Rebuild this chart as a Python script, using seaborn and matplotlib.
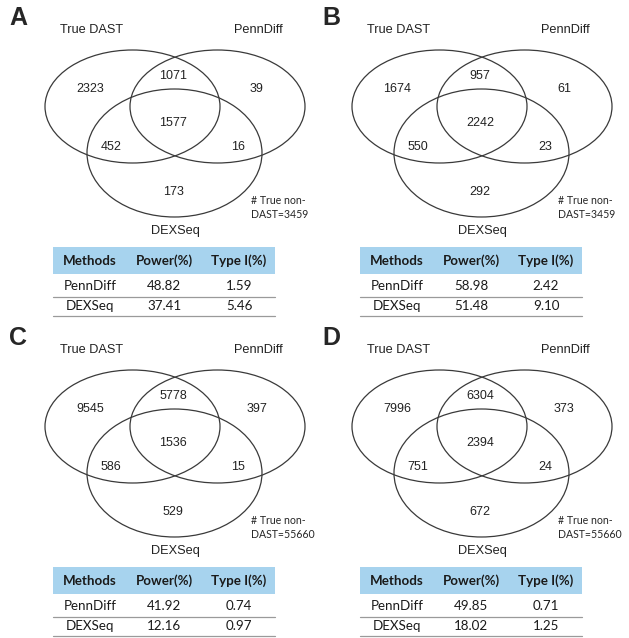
import numpy as np
import matplotlib
matplotlib.use("Agg")
import matplotlib.pyplot as plt
from matplotlib.patches import Ellipse, Rectangle
import seaborn as sns

sns.set_theme(style="white")
plt.rcParams['font.family'] = ['Liberation Sans', 'DejaVu Sans']

panels = ['A', 'B', 'C', 'D']
sets = ['True DAST', 'PennDiff', 'DEXSeq']
# regions: TD only, TD&PD, PD only, all three, TD&DX, PD&DX, DX only
counts_A = [2323, 1071, 39, 1577, 452, 16, 173]
counts_B = [1674, 957, 61, 2242, 550, 23, 292]
counts_C = [9545, 5778, 397, 1536, 586, 15, 529]
counts_D = [7996, 6304, 373, 2394, 751, 24, 672]
non_dast = [3459, 3459, 55660, 55660]
methods = ['PennDiff', 'DEXSeq']
power = [[48.82, 37.41], [58.98, 51.48], [41.92, 12.16], [49.85, 18.02]]
type1 = [[1.59, 5.46], [2.42, 9.10], [0.74, 0.97], [0.71, 1.25]]
columns = ['Methods', 'Power(%)', 'Type I(%)']

all_counts = [counts_A, counts_B, counts_C, counts_D]

W, H = 629, 638
fig = plt.figure(figsize=(W / 100, H / 100), dpi=100)
fig.patch.set_facecolor('white')

# panel origins in pixels
origins = [(0, 0), (307, 0), (0, 320), (307, 320)]
letter_x = [9, 15, 9, 15]

# layout in panel-local pixel coordinates
ell = [((132.5, 106.5), 175, 113), ((217.5, 106.5), 175, 113), ((174.5, 153), 175, 128)]
region_pos = [(90, 89), (173, 76), (257, 89), (173, 123), (111, 147), (238, 147), (173, 192)]
header_blue = '#A7D3EE'
edge = '#3a3a3a'
tfont = ['Lato', 'DejaVu Sans']

for i, p in enumerate(panels):
    x0, y0 = origins[i]
    ax = fig.add_axes([x0 / W, 1 - (y0 + 319) / H, 314 / W, 319 / H])
    ax.set_xlim(0, 314)
    ax.set_ylim(319, 0)
    ax.axis('off')
    ax.patch.set_alpha(0)

    ax.text(letter_x[i], 18, p, fontsize=18, fontweight='bold', ha='left', va='center')

    for (c, w, h) in ell:
        ax.add_patch(Ellipse(c, w, h, fill=False, edgecolor=edge, lw=0.9, clip_on=False))

    ax.text(92, 30, sets[0], fontsize=9.2, ha='center', va='center', color='#222222')
    ax.text(258, 30, sets[1], fontsize=9.2, ha='center', va='center', color='#222222')
    ax.text(175, 231, sets[2], fontsize=9.2, ha='center', va='center', color='#222222')

    for (px, py), v in zip(region_pos, all_counts[i]):
        ax.text(px, py, str(v), fontsize=9, ha='center', va='center', color='#222222')

    ax.text(251, 200, '# True non-', fontsize=7.6, ha='left', va='center', family=tfont)
    ax.text(251, 214, 'DAST=%d' % non_dast[i], fontsize=7.6, ha='left', va='center', family=tfont)

    # table
    tx0, tx1 = 53, 275
    col_x = [90, 164, 239]
    ax.add_patch(Rectangle((tx0, 247), tx1 - tx0, 27, facecolor=header_blue, edgecolor='none', clip_on=False))
    for cx, name in zip(col_x, columns):
        ax.text(cx, 261, name, fontsize=9.6, fontweight='bold', ha='center', va='center',
                family=tfont, color='#1a1a1a')
    row_y = [286, 306]
    for r, ry in enumerate(row_y):
        vals = [methods[r], '%.2f' % power[i][r], '%.2f' % type1[i][r]]
        for cx, v in zip(col_x, vals):
            ax.text(cx, ry, v, fontsize=9.6, ha='center', va='center', family=tfont, color='#1a1a1a')
    for ly in [296.5, 316]:
        ax.plot([tx0, tx1], [ly, ly], color='#9a9a9a', lw=0.9, clip_on=False)

fig.savefig('out.png', dpi=100, facecolor='white')
